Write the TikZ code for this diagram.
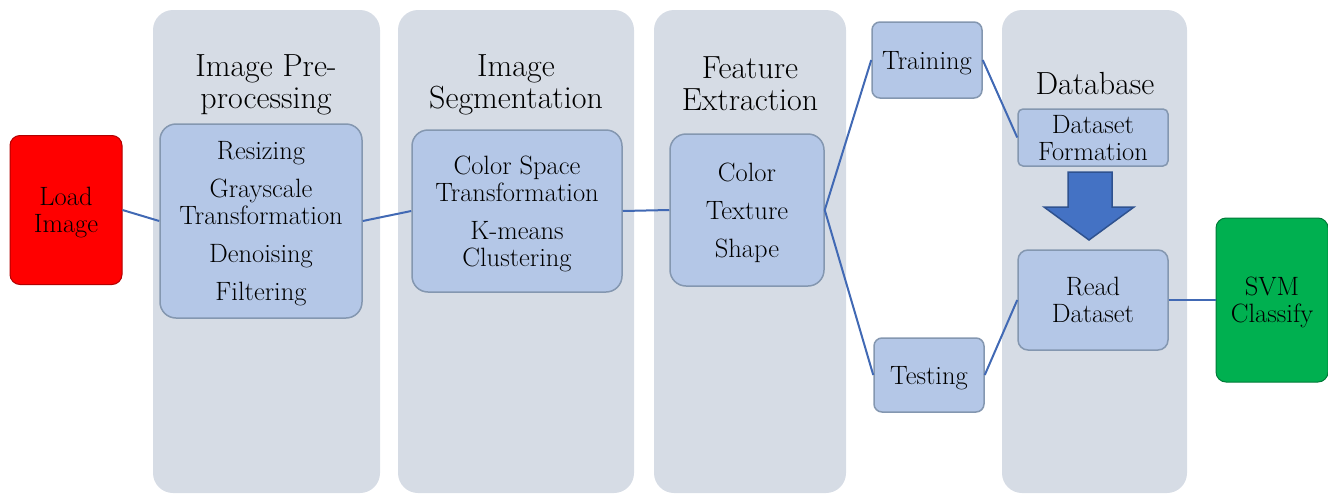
\documentclass[tikz,border=0pt]{standalone}
\usepackage{fontspec}
\definecolor{colbg}{HTML}{D6DCE5}
\definecolor{boxfill}{HTML}{B4C7E7}
\definecolor{boxline}{HTML}{8497B0}
\definecolor{link}{HTML}{4169B4}
\definecolor{arrowfill}{HTML}{4472C4}
\definecolor{arrowline}{HTML}{2F528F}
\definecolor{loadred}{HTML}{FF0000}
\definecolor{svmgreen}{HTML}{00B050}
\begin{document}
\begin{tikzpicture}[x=1pt,y=-1pt,
  stagebox/.style={fill=boxfill,draw=boxline,line width=1.5pt,rounded corners=#1,inner sep=0pt,align=center,
    text depth=0pt,font=\fontsize{26.5}{27}\selectfont},
  stagebox/.default=16pt,
  heading/.style={align=center,font=\fontsize{32}{32}\selectfont,inner sep=0pt},
  endbox/.style={draw=#1!70!black,fill=#1,line width=1pt,rounded corners=10pt,inner sep=0pt,align=center,
    text depth=0pt,font=\fontsize{26.5}{27}\selectfont},
  link/.style={draw=link,line width=2pt}]
\useasboundingbox (0,0) rectangle (1328,493);
% background columns
\fill[colbg,rounded corners=20pt] (153,10) rectangle (380,493);
\fill[colbg,rounded corners=20pt] (398,10) rectangle (634,493);
\fill[colbg,rounded corners=20pt] (654,10) rectangle (846,493);
\fill[colbg,rounded corners=20pt] (1002,10) rectangle (1187,493);
% headings
\node[heading] (h1) at (266,85) {Image Pre-\\processing};
\node[heading] (h2) at (516,85) {Image\\Segmentation};
\node[heading] (h3) at (750,84) {Feature\\Extraction};
\node[heading] (h4) at (1095,84) {Database};
% boxes
\node[endbox=loadred,minimum width=112pt,minimum height=149pt] (load) at (66,210) {Load\\Image};
\node[stagebox,minimum width=202pt,minimum height=194pt] (pre) at (261,221)
  {Resizing\\[11pt]Grayscale\\Transformation\\[11pt]Denoising\\[11pt]Filtering};
\node[stagebox,minimum width=210pt,minimum height=162pt] (seg) at (517,211)
  {Color Space\\Transformation\\[11pt]K-means\\Clustering};
\node[stagebox,minimum width=154pt,minimum height=152pt] (feat) at (747,210)
  {Color\\[11pt]Texture\\[11pt]Shape};
\node[stagebox=8pt,minimum width=110pt,minimum height=76pt] (train) at (927,60) {Training};
\node[stagebox=8pt,minimum width=110pt,minimum height=74pt] (test) at (929,375) {Testing};
\node[stagebox=5pt,minimum width=150pt,minimum height=57pt] (df) at (1093,137.5) {Dataset\\Formation};
\node[stagebox=10pt,minimum width=150pt,minimum height=100pt] (rd) at (1093,300) {Read\\Dataset};
\node[endbox=svmgreen,minimum width=112pt,minimum height=164pt] (svm) at (1272,300) {SVM\\Classify};
% block arrow
\draw[fill=arrowfill,draw=arrowline,line width=1.5pt,line join=miter]
  (1068,172) -- (1112,172) -- (1112,207) -- (1134,207) -- (1089,240) -- (1044,207) -- (1068,207) -- cycle;
% connectors
\draw[link] (load.east) -- (pre.west);
\draw[link] (pre.east) -- (seg.west);
\draw[link] (seg.east) -- (feat.west);
\draw[link] (feat.east) -- (train.west);
\draw[link] (feat.east) -- (test.west);
\draw[link] (train.east) -- (df.west);
\draw[link] (test.east) -- (rd.west);
\draw[link] (rd.east) -- (svm.west);
\end{tikzpicture}
\end{document}
